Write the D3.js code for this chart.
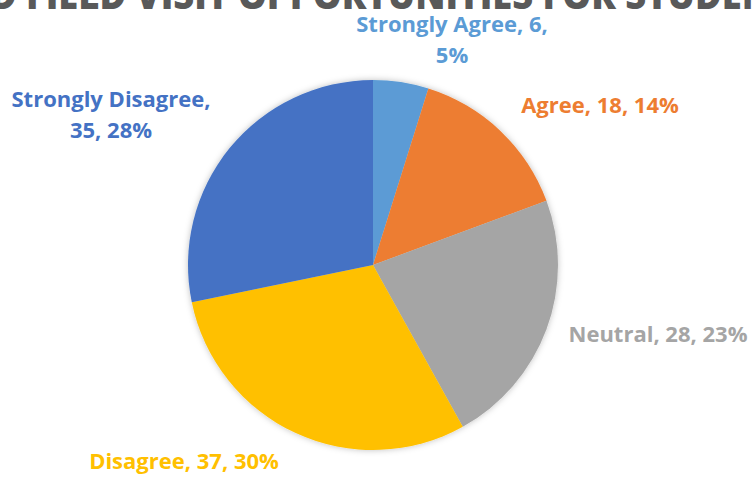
<!DOCTYPE html>
<html>
<head>
<meta charset="utf-8">
<script src="https://cdn.jsdelivr.net/npm/d3@7"></script>
<style>
  html, body { margin: 0; padding: 0; background: #fff; overflow: hidden; }
  svg { display: block; }
</style>
</head>
<body>
<svg id="chart" width="753" height="477"></svg>
<script>
// ---- data ----
const categories = ["Strongly Agree", "Agree", "Neutral", "Disagree", "Strongly Disagree"];
const values = [6, 18, 28, 37, 35];
const percentLabels = ["5%", "14%", "23%", "30%", "28%"];
const colors = ["#5B9BD5", "#ED7D31", "#A5A5A5", "#FFC000", "#4472C4"];
const titleText = "D FIELD VISIT OPPORTUNITIES FOR STUDEN";

// ---- layout ----
const W = 753, H = 477;
const cx = 373, cy = 265, R = 185;
// label anchors (center x, first baseline y) and line breaking
const labelLayout = [
  { x: 452, y: 32, lines: d => [d.cat + ", " + d.val + ",", d.pct] },
  { x: 600, y: 113, lines: d => [d.cat + ", " + d.val + ", " + d.pct] },
  { x: 658, y: 342, lines: d => [d.cat + ", " + d.val + ", " + d.pct] },
  { x: 184, y: 469, lines: d => [d.cat + ", " + d.val + ", " + d.pct] },
  { x: 111, y: 107, lines: d => [d.cat + ",", d.val + ", " + d.pct] }
];
const lineGap = 31;

const svg = d3.select("#chart");

const defs = svg.append("defs");
const f = defs.append("filter").attr("id", "shadow")
  .attr("x", "-20%").attr("y", "-20%").attr("width", "140%").attr("height", "140%");
f.append("feDropShadow").attr("dx", 0).attr("dy", 0)
  .attr("stdDeviation", 3).attr("flood-color", "#000").attr("flood-opacity", 0.25);

// title (clipped at top of canvas)
svg.append("text")
  .attr("x", -10).attr("y", 9)
  .attr("textLength", 782).attr("lengthAdjust", "spacingAndGlyphs")
  .style("font-family", "'Open Sans', 'Liberation Sans', sans-serif")
  .style("font-weight", "800")
  .style("font-size", "38px")
  .style("fill", "#595959")
  .text(titleText);

const data = categories.map((c, i) => ({ cat: c, val: values[i], pct: percentLabels[i], color: colors[i], i }));

const pie = d3.pie().value(d => d.val).sort(null);
const arc = d3.arc().innerRadius(0).outerRadius(R);

const g = svg.append("g").attr("transform", `translate(${cx},${cy})`);
g.append("g").attr("filter", "url(#shadow)")
  .selectAll("path")
  .data(pie(data))
  .join("path")
  .attr("d", arc)
  .attr("fill", d => d.data.color);

// labels
const lg = svg.append("g");
data.forEach((d, i) => {
  const L = labelLayout[i];
  const t = lg.append("text")
    .attr("text-anchor", "middle")
    .style("font-family", "'Open Sans', 'Liberation Sans', sans-serif")
    .style("font-weight", "bold")
    .style("font-size", "22px")
    .style("fill", d.color);
  L.lines(d).forEach((ln, k) => {
    t.append("tspan").attr("x", L.x).attr("y", L.y + k * lineGap).text(ln);
  });
});
</script>
</body>
</html>
